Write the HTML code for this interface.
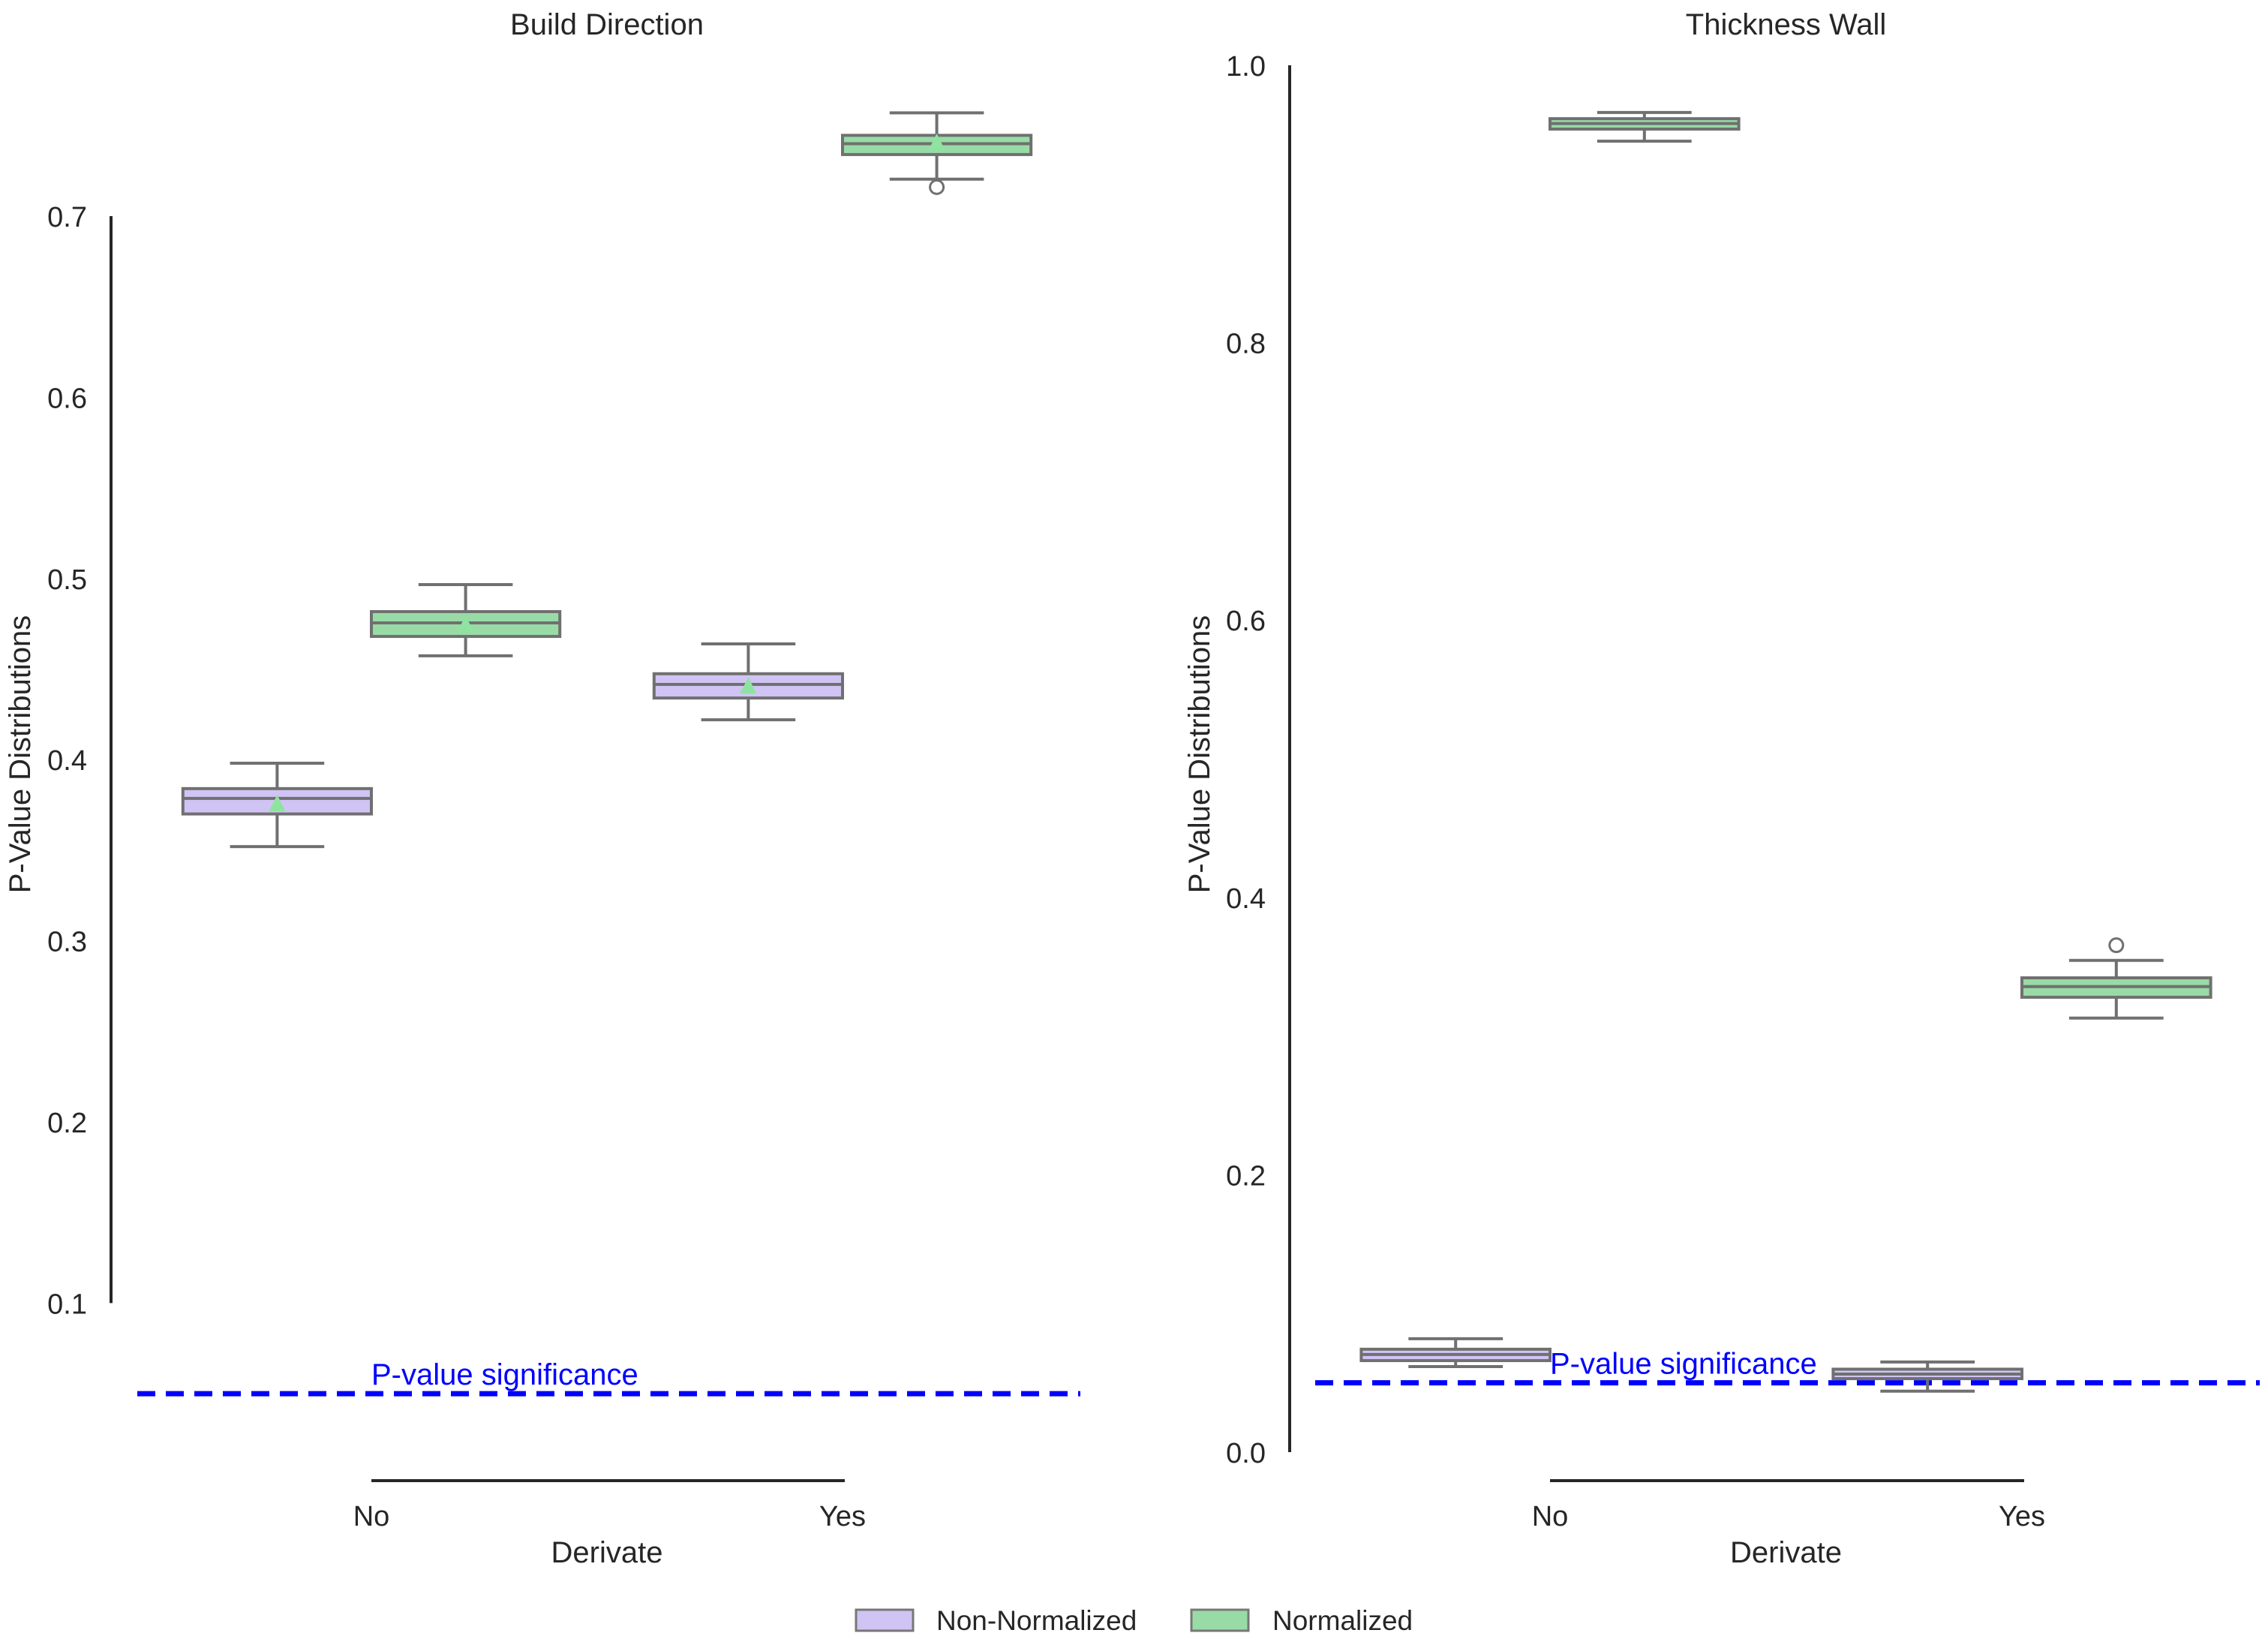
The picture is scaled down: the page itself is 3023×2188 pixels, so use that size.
<!DOCTYPE html>
<html><head><meta charset="utf-8"><style>
body{margin:0;background:#fff}
svg{display:block;font-family:"Liberation Sans",sans-serif}
</style></head><body>
<svg id="chart" width="3023" height="2188" viewBox="0 0 3023 2188" xmlns="http://www.w3.org/2000/svg">
<rect width="3023" height="2188" fill="#fff"/>
<g id="legend">
 <g>
  <rect x="1141" y="2145" width="76" height="28" fill="#d0c4f4" stroke="#777" stroke-width="3"/>
  <text x="1248" y="2172" font-size="37" fill="#262626">Non-Normalized</text>
 </g>
 <g>
  <rect x="1588" y="2145" width="76" height="28" fill="#98dba6" stroke="#777" stroke-width="3"/>
  <text x="1696" y="2172" font-size="37" fill="#262626">Normalized</text>
 </g>
</g>
</svg>
<script>
const categories = ["No","Yes"];
const series = ["Non-Normalized","Normalized"];
// Build Direction: [whiskerLow, q1, median, q3, whiskerHigh]
const bdNonNorm = [[0.352,0.370,0.3786,0.384,0.398],[0.422,0.434,0.4415,0.4474,0.4639]];
const bdNorm    = [[0.4573,0.468,0.4755,0.4817,0.4966],[0.7204,0.734,0.740,0.7446,0.757]];
const bdMeansNonNorm = [0.376,0.441];
const bdMeansNorm = [0.475,0.741];
const bdOutliersNorm = [[],[0.716]];
const bdOutliersNonNorm = [[],[]];
const bdTicks = [0.1,0.2,0.3,0.4,0.5,0.6,0.7];
// Thickness Wall
const twNonNorm = [[0.0617,0.066,0.0704,0.0742,0.0818],[0.044,0.053,0.0563,0.0598,0.065]];
const twNorm    = [[0.9453,0.954,0.958,0.9615,0.966],[0.313,0.328,0.3357,0.342,0.3546]];
const twOutliersNorm = [[],[0.3655]];
const twOutliersNonNorm = [[],[]];
const twTicks = [0.0,0.2,0.4,0.6,0.8,1.0];
const sigLevel = [0.05];

const NS="http://www.w3.org/2000/svg";
const svg=document.getElementById('chart');
function mk(tag,attrs,parent){const e=document.createElementNS(NS,tag);for(const k in attrs)e.setAttribute(k,attrs[k]);(parent||svg).appendChild(e);return e;}

function panel(cfg){
  const g=mk('g',{});
  
  
  const y=v=>cfg.y0px-(v-cfg.y0)*cfg.ppu;
  const x=i=>cfg.x0+i*(cfg.x1-cfg.x0);
  const band=cfg.x1-cfg.x0;
  const t=mk('text',{x:(cfg.x0+cfg.x1)/2,y:46,'font-size':40,'text-anchor':'middle',fill:'#262626'},g);
  t.textContent=cfg.title;
  
  
  const ya=mk('line',{x1:cfg.ax,x2:cfg.ax,y1:y(cfg.ticks[cfg.ticks.length-1]),y2:y(cfg.ticks[0]),stroke:'#262626','stroke-width':4},g);
  
  
  cfg.ticks.forEach(v=>{
    const tt=mk('text',{x:cfg.ax-32,y:y(v)+14,'font-size':38,'text-anchor':'end',fill:'#262626'},g);
    tt.textContent=v.toFixed(1);
    
    
  });
  const yl=mk('text',{x:0,y:0,'font-size':40,'text-anchor':'middle',fill:'#262626',transform:`translate(${cfg.ylx},1005) rotate(-90)`},g);
  yl.textContent='P-Value Distributions';
  
  
  const xa=mk('line',{x1:x(0),x2:x(1)+3,y1:1973,y2:1973,stroke:'#262626','stroke-width':4},g);
  
  
  categories.forEach((c,i)=>{
    const tt=mk('text',{x:x(i),y:2033,'font-size':38,'text-anchor':'middle',fill:'#262626'},g);
    tt.textContent=c;
    
    
  });
  const xl=mk('text',{x:(cfg.x0+cfg.x1)/2,y:2082,'font-size':40,'text-anchor':'middle',fill:'#262626'},g);
  xl.textContent='Derivate';
  
  
  const sl=mk('line',{x1:cfg.dx0,x2:cfg.dx1,y1:y(sigLevel[0]),y2:y(sigLevel[0]),stroke:'#0000ff','stroke-width':7,'stroke-dasharray':'24 14'},g);
  
  
  const st=mk('text',{x:x(0),y:y(sigLevel[0])-12,'font-size':40,fill:'#0000ff'},g);
  st.textContent='P-value significance';
  
  
  const bw=band*0.4;
  const groups=[[cfg.nonNorm,'#d0c4f4',-1,cfg.outNon,cfg.meanNon,'non-normalized'],[cfg.norm,'#98dba6',1,cfg.outNorm,cfg.meanNorm,'normalized']];
  groups.forEach(([data,fill,side,outs,means,nm])=>{
    data.forEach((d,i)=>{
      const cx=x(i)+side*bw/2;
      const bg=mk('g',{},g);
      
      
      const st={stroke:'#707070','stroke-width':4};
      mk('line',Object.assign({x1:cx,x2:cx,y1:y(d[0]),y2:y(d[1])},st),bg);
      mk('line',Object.assign({x1:cx,x2:cx,y1:y(d[3]),y2:y(d[4])},st),bg);
      mk('line',Object.assign({x1:cx-bw/4,x2:cx+bw/4,y1:y(d[0]),y2:y(d[0])},st),bg);
      mk('line',Object.assign({x1:cx-bw/4,x2:cx+bw/4,y1:y(d[4]),y2:y(d[4])},st),bg);
      mk('rect',Object.assign({x:cx-bw/2,y:y(d[3]),width:bw,height:y(d[1])-y(d[3]),fill:fill},st),bg);
      mk('line',Object.assign({x1:cx-bw/2,x2:cx+bw/2,y1:y(d[2]),y2:y(d[2])},st),bg);
      (outs[i]||[]).forEach(o=>{
        const c=mk('circle',{cx:cx,cy:y(o),r:9,fill:'#fff',stroke:'#707070','stroke-width':3},bg);
        
        
      });
      if(means){
        const m=y(means[i]);
        const tri=mk('polygon',{points:`${cx-11},${m+11} ${cx+11},${m+11} ${cx},${m-11}`,fill:'#8fe3a0'},bg);
        
        
      }
    });
  });
}
panel({name:'build-direction-panel',title:'Build Direction',ax:148,x0:495,x1:1123,y0:0.7,y0px:288,ppu:2414,ticks:bdTicks,ylx:40,dx0:183,dx1:1440,
  nonNorm:bdNonNorm,norm:bdNorm,outNon:bdOutliersNonNorm,outNorm:bdOutliersNorm,meanNon:bdMeansNonNorm,meanNorm:bdMeansNorm});
panel({name:'thickness-wall-panel',title:'Thickness Wall',ax:1719,x0:2066,x1:2695,y0:0,y0px:1935,ppu:1848,ticks:twTicks,ylx:1612,dx0:1753,dx1:3012,
  nonNorm:twNonNorm,norm:twNorm,outNon:twOutliersNonNorm,outNorm:twOutliersNorm,meanNon:null,meanNorm:null});
</script>
</body></html>
